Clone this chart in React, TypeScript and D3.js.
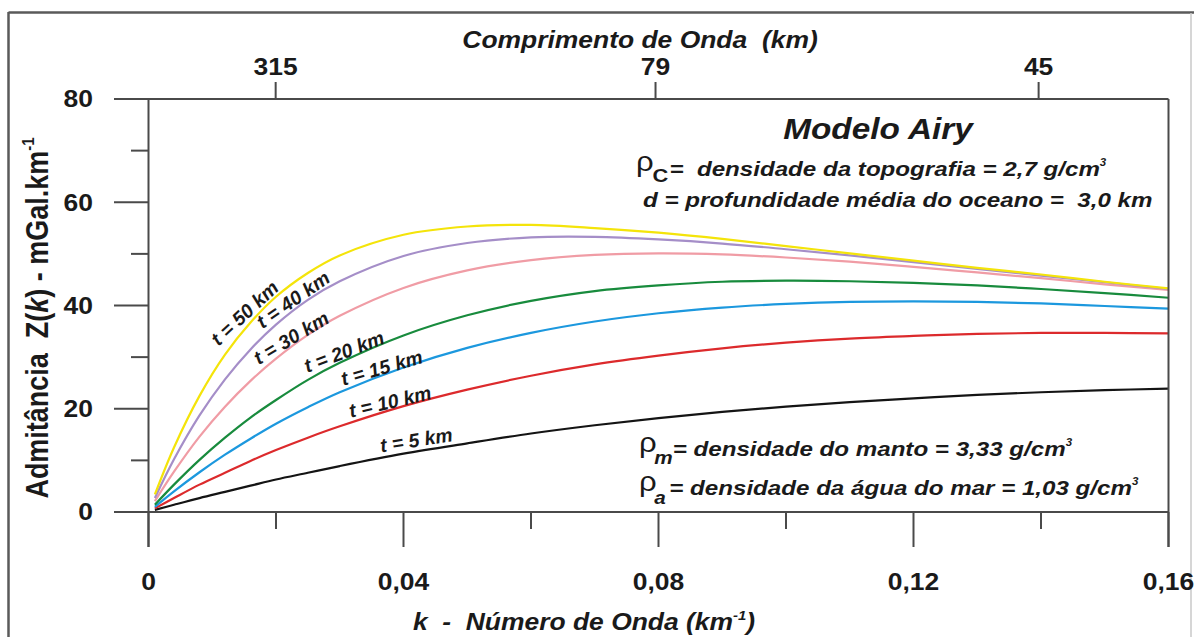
import React from "react";
import * as d3 from "d3";

// ---------- data ----------
const kValues = [0.001, 0.004, 0.008, 0.012, 0.016, 0.02, 0.025, 0.03, 0.04, 0.05, 0.06, 0.07, 0.08, 0.09, 0.10, 0.11, 0.12, 0.13, 0.14, 0.15, 0.16];

const t5 = [0.4, 1.4, 2.7, 3.9, 5.1, 6.3, 7.6, 8.9, 11.3, 13.3, 15.2, 16.8, 18.2, 19.4, 20.4, 21.3, 22.0, 22.7, 23.2, 23.6, 23.9];
const t10 = [0.7, 2.7, 5.3, 7.6, 9.9, 12.0, 14.4, 16.6, 20.5, 23.7, 26.4, 28.6, 30.3, 31.7, 32.8, 33.6, 34.1, 34.5, 34.7, 34.7, 34.6];
const t15 = [1.0, 4.0, 7.7, 11.1, 14.2, 17.1, 20.3, 23.2, 28.0, 31.8, 34.7, 36.9, 38.5, 39.6, 40.3, 40.7, 40.8, 40.7, 40.4, 39.9, 39.4];
const t20 = [1.4, 5.3, 10.1, 14.4, 18.3, 21.7, 25.6, 28.9, 34.2, 38.1, 40.9, 42.8, 43.9, 44.6, 44.8, 44.7, 44.4, 43.9, 43.2, 42.4, 41.5];
const t30 = [2.1, 7.8, 14.6, 20.4, 25.4, 29.7, 34.3, 38.0, 43.4, 46.8, 48.8, 49.8, 50.1, 49.9, 49.3, 48.5, 47.5, 46.4, 45.3, 44.1, 43.0];
const t40 = [2.7, 10.2, 18.7, 25.7, 31.5, 36.3, 41.1, 44.7, 49.6, 52.1, 53.2, 53.3, 52.8, 52.0, 50.9, 49.7, 48.4, 47.1, 45.8, 44.5, 43.2];
const t50 = [3.4, 12.5, 22.5, 30.5, 36.7, 41.7, 46.3, 49.7, 53.7, 55.3, 55.6, 55.0, 54.1, 52.9, 51.5, 50.1, 48.7, 47.3, 46.0, 44.6, 43.3];

const seriesNames = ["t = 5 km", "t = 10 km", "t = 15 km", "t = 20 km", "t = 30 km", "t = 40 km", "t = 50 km"];
const seriesValues = [t5, t10, t15, t20, t30, t40, t50];
const seriesColors = ["#141414", "#dc2a2c", "#1c98de", "#188b3d", "#f09ca5", "#a58ec8", "#f4e40a"];
// label anchor (k, value) and angle in degrees, as placed in the picture
const labelK = [0.0420, 0.0379, 0.0366, 0.0307, 0.0224, 0.0227, 0.0151];
const labelV = [13.9, 21.3, 27.9, 31.0, 33.7, 41.1, 38.5];
const labelAngle = [-9, -13, -16, -21, -31, -35, -43];

const xTicksMajor = [0, 0.04, 0.08, 0.12, 0.16];
const xTickLabels = ["0", "0,04", "0,08", "0,12", "0,16"];
const xTicksMinor = [0.02, 0.06, 0.10, 0.14];
const yTicksMajor = [0, 20, 40, 60, 80];
const yTicksMinor = [10, 30, 50, 70];
const topWavelengths = [315, 79, 45];

// ---------- layout ----------
const W = 1194;
const H = 637;
const SX = 1.15; // horizontal stretch of the original artwork
const FONT = "'Liberation Sans', Arial, Helvetica, sans-serif";
const AXIS = "#4a4a4a";

const x = d3.scaleLinear().domain([0, 0.16]).range([148.5, 1168.5]);
const y = d3.scaleLinear().domain([0, 80]).range([512, 99]);

function T({ x: tx, y: ty, size, weight = "bold", italic = false, anchor = "start", rotate, sx = SX, children }: any) {
  const tr = `translate(${tx},${ty}) scale(${sx},1)` + (rotate !== undefined ? ` rotate(${rotate})` : "");
  return (
    <text
      transform={tr}
      fontFamily={FONT}
      fontSize={size}
      fontWeight={weight}
      fontStyle={italic ? "italic" : "normal"}
      textAnchor={anchor}
      fill="#1a1a1a"
      style={{ whiteSpace: "pre" }}
    >
      {children}
    </text>
  );
}

export default function App() {
  const line = d3
    .line<number>()
    .x((_, i) => x(kValues[i]))
    .y((d) => y(d))
    .curve(d3.curveCatmullRom.alpha(0.5));

  const x0 = x(0);
  const x1 = x(0.16);
  const y0 = y(0);
  const yTop = y(80);

  return (
    <svg width={W} height={H} style={{ position: "absolute", left: 0, top: 0, background: "#fff" }}>
      <rect x={0} y={0} width={W} height={H} fill="#fff" />
      {/* outer frame */}
      <line x1={8.5} y1={12.5} x2={W} y2={12.5} stroke="#5a5a5a" strokeWidth={2.5} />
      <line x1={8.5} y1={12} x2={8.5} y2={H} stroke="#5a5a5a" strokeWidth={2.5} />
      <line x1={1191} y1={13} x2={1191} y2={H} stroke="#c9c9c9" strokeWidth={1.5} />

      {/* curves */}
      {seriesValues.map((vals, i) => (
        <path key={i} d={line(vals) || ""} fill="none" stroke={seriesColors[i]} strokeWidth={2.2} />
      ))}

      {/* axes frame */}
      <g stroke={AXIS} strokeWidth={2} fill="none">
        <line x1={114} y1={yTop} x2={x1} y2={yTop} />
        <line x1={114} y1={y0} x2={x1} y2={y0} />
        <line x1={x0} y1={yTop} x2={x0} y2={y0 + 35} />
        <line x1={x1} y1={yTop} x2={x1} y2={y0 + 35} />
        {yTicksMajor.map((v) => (
          <line key={"ym" + v} x1={114} y1={y(v)} x2={x0} y2={y(v)} />
        ))}
        {yTicksMinor.map((v) => (
          <line key={"yn" + v} x1={131} y1={y(v)} x2={x0} y2={y(v)} />
        ))}
        {xTicksMajor.map((v) => (
          <line key={"xm" + v} x1={x(v)} y1={y0} x2={x(v)} y2={y0 + 35} />
        ))}
        {xTicksMinor.map((v) => (
          <line key={"xn" + v} x1={x(v)} y1={y0} x2={x(v)} y2={y0 + 17} />
        ))}
        {topWavelengths.map((w) => (
          <line key={"tw" + w} x1={x((2 * Math.PI) / w)} y1={yTop} x2={x((2 * Math.PI) / w)} y2={yTop - 17} />
        ))}
      </g>

      {/* tick labels */}
      {yTicksMajor.map((v) => (
        <T key={"yl" + v} x={93} y={y(v) + 8.3} size={23} anchor="end">
          {String(v)}
        </T>
      ))}
      {xTicksMajor.map((v, i) => (
        <T key={"xl" + v} x={x(v)} y={590} size={23} anchor="middle">
          {xTickLabels[i]}
        </T>
      ))}
      {topWavelengths.map((w) => (
        <T key={"tl" + w} x={x((2 * Math.PI) / w)} y={75} size={23} anchor="middle">
          {String(w)}
        </T>
      ))}

      {/* axis titles */}
      <T x={640} y={48} size={23} italic anchor="middle">
        Comprimento de Onda  (km)
      </T>
      <T x={584} y={630} size={23} italic anchor="middle">
        {"k  -  Número de Onda (km"}
        <tspan fontSize={13} dy={-10}>-1</tspan>
        <tspan dy={10}>)</tspan>
      </T>
      <T x={48} y={318} size={27} anchor="middle" rotate={-90}>
        {"Admitância  Z("}
        <tspan fontStyle="italic">k</tspan>
        {") - mGal.km"}
        <tspan fontSize={15} dy={-12}>-1</tspan>
      </T>

      {/* curve labels */}
      {seriesNames.map((n, i) => (
        <T key={"lab" + i} x={x(labelK[i])} y={y(labelV[i])} size={19.5} italic anchor="middle" rotate={labelAngle[i]} sx={1}>
          <tspan dy={6.5}>{n}</tspan>
        </T>
      ))}

      {/* model annotations */}
      <T x={878} y={139} size={29} italic anchor="middle">
        Modelo Airy
      </T>

      <T x={636} y={171} size={27} weight="normal">
        {"ρ"}
        <tspan fontSize={19} fontWeight="bold" dx={-1} dy={11}>C</tspan>
        <tspan fontSize={21} fontWeight="bold" fontStyle="italic" dx={1} dy={-6}>
          {"=  densidade da topografia = 2,7 g/cm"}
        </tspan>
        <tspan fontSize={10} fontWeight="bold" fontStyle="italic" dy={-10}>3</tspan>
      </T>
      <T x={643} y={207} size={21} italic>
        d = profundidade média do oceano =  3,0 km
      </T>

      <T x={639} y={452} size={27} weight="normal">
        {"ρ"}
        <tspan fontSize={18} fontWeight="bold" fontStyle="italic" dx={-2} dy={12}>m</tspan>
        <tspan fontSize={21} fontWeight="bold" fontStyle="italic" dx={0} dy={-8}>
          {"= densidade do manto = 3,33 g/cm"}
        </tspan>
        <tspan fontSize={10} fontWeight="bold" fontStyle="italic" dy={-10}>3</tspan>
      </T>

      <T x={639} y={491} size={27} weight="normal">
        {"ρ"}
        <tspan fontSize={18} fontWeight="bold" fontStyle="italic" dx={-2} dy={13}>a</tspan>
        <tspan fontSize={21} fontWeight="bold" fontStyle="italic" dx={3} dy={-9}>
          {"= densidade da água do mar = 1,03 g/cm"}
        </tspan>
        <tspan fontSize={10} fontWeight="bold" fontStyle="italic" dy={-10}>3</tspan>
      </T>
    </svg>
  );
}
